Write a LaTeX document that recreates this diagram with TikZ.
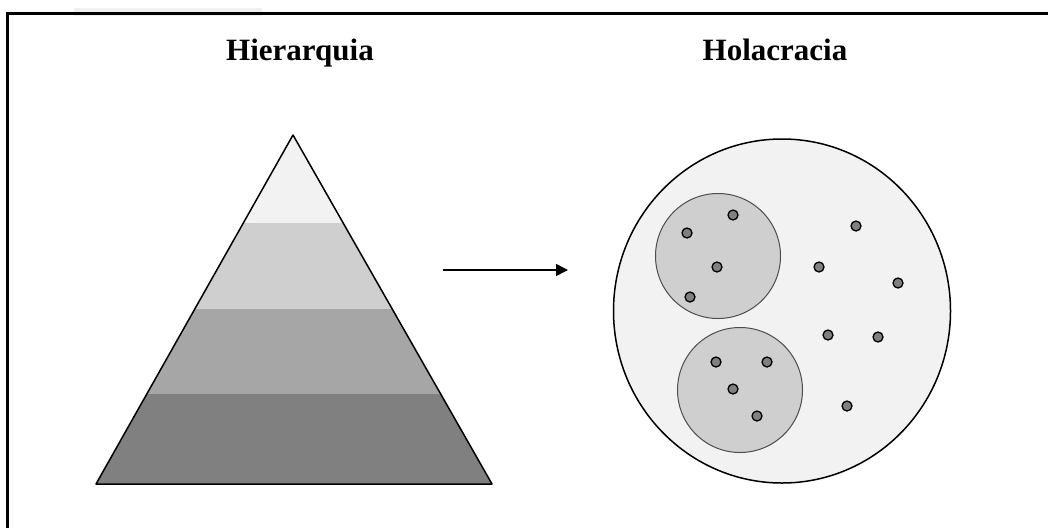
\documentclass[tikz,border=0pt]{standalone}
\usepackage{fontspec}
\setmainfont{Liberation Serif}
\usetikzlibrary{arrows.meta,shapes.geometric}

\definecolor{bandA}{HTML}{F2F2F2}
\definecolor{bandB}{HTML}{D0CFD0}
\definecolor{bandC}{HTML}{A6A6A6}
\definecolor{bandD}{HTML}{808080}

\begin{document}
\begin{tikzpicture}[
  x=1pt,y=-1pt,
  title/.style={font=\bfseries\fontsize{31}{34}\selectfont,anchor=base,inner sep=0pt},
  big/.style={draw,ellipse,line width=1.5pt,fill=bandA,minimum width=337pt,minimum height=344pt,inner sep=0pt},
  team/.style={draw=black!70,circle,line width=1pt,fill=bandB,minimum size=125pt,inner sep=0pt},
  dot/.style={draw,circle,line width=1.3pt,fill=bandD,minimum size=10pt,inner sep=0pt},
  a/.style={-{Triangle[length=12pt,width=12pt]},line width=1.5pt},
]
  \useasboundingbox (0,0) rectangle (1048,528);
  \fill[black!6] (74,8) rectangle (262,16);
  \draw[line width=3pt] (7,528) -- (7,13) -- (1048,13);

  \node[title] (hier) at (300,60) {Hierarquia};
  \node[title] (hola) at (775,60) {Holacracia};

  % pyramid
  \coordinate (top) at (293,135);
  \coordinate (bl) at (96,484);
  \coordinate (br) at (492,484);
  \begin{scope}
    \clip (top) -- (bl) -- (br) -- cycle;
    \fill[bandA] (90,130) rectangle (500,223);
    \fill[bandB] (90,223) rectangle (500,309);
    \fill[bandC] (90,309) rectangle (500,394);
    \fill[bandD] (90,394) rectangle (500,490);
  \end{scope}
  \draw[line width=1.5pt,line join=round] (top) -- (bl) -- (br) -- cycle;

  \coordinate (from) at (443,270);
  \coordinate (to) at (568,270);
  \draw[a] (from) -- (to);

  % circles
  \node[big] (holo) at (782,311) {};
  \node[team] (t1) at (718,256) {};
  \node[team] (t2) at (740,390) {};
  \foreach \x/\y [count=\i] in {733/215,687/233,717/267,690/297,856/226,819/267,898/283,
      828/335,878/337,716/362,767/362,733/389,757/416,847/406}
    \node[dot] (d\i) at (\x,\y) {};
\end{tikzpicture}
\end{document}
